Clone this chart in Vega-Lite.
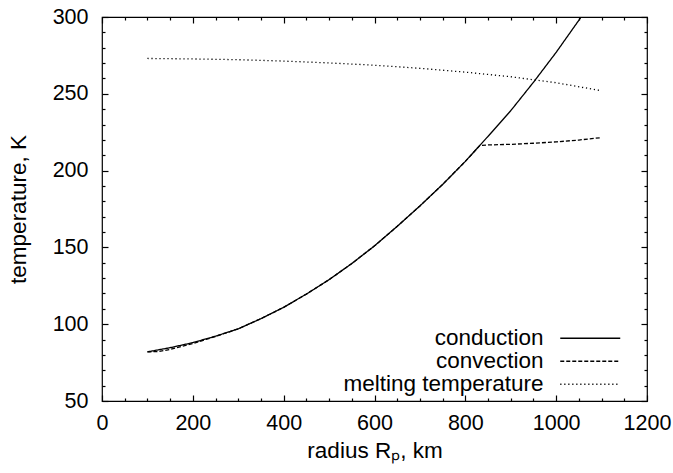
{
  "$schema": "https://vega.github.io/schema/vega-lite/v6.json",
  "width": 545,
  "height": 384,
  "autosize": {"type": "none"},
  "padding": {"left": 102, "top": 17, "right": 26, "bottom": 72},
  "background": "white",
  "config": {
    "view": {"stroke": "#000", "strokeWidth": 1.2},
    "font": "Liberation Sans",
    "axis": {"grid": false, "domain": false, "ticks": true, "tickColor": "#000", "tickOpacity": 1, "labelColor": "#000", "titleColor": "#000", "tickWidth": 1.2, "zindex": 1, "labelFlush": false}
  },
  "data": {
    "values": [
      {"r": 100, "T": 82, "s": "conduction"},
      {"r": 150, "T": 84.7, "s": "conduction"},
      {"r": 200, "T": 88, "s": "conduction"},
      {"r": 250, "T": 92.2, "s": "conduction"},
      {"r": 300, "T": 97, "s": "conduction"},
      {"r": 350, "T": 103.6, "s": "conduction"},
      {"r": 400, "T": 111, "s": "conduction"},
      {"r": 450, "T": 119.6, "s": "conduction"},
      {"r": 500, "T": 129, "s": "conduction"},
      {"r": 550, "T": 139.5, "s": "conduction"},
      {"r": 600, "T": 151, "s": "conduction"},
      {"r": 650, "T": 163.7, "s": "conduction"},
      {"r": 700, "T": 177, "s": "conduction"},
      {"r": 750, "T": 191, "s": "conduction"},
      {"r": 800, "T": 206, "s": "conduction"},
      {"r": 850, "T": 222.3, "s": "conduction"},
      {"r": 900, "T": 239, "s": "conduction"},
      {"r": 950, "T": 257.5, "s": "conduction"},
      {"r": 1000, "T": 277, "s": "conduction"},
      {"r": 1055, "T": 300, "s": "conduction"},
      {"r": 100, "T": 82, "s": "convection"},
      {"r": 125, "T": 82.2, "s": "convection"},
      {"r": 150, "T": 83.6, "s": "convection"},
      {"r": 200, "T": 87.4, "s": "convection"},
      {"r": 250, "T": 92, "s": "convection"},
      {"r": 300, "T": 97, "s": "convection"},
      {"r": 350, "T": 103.6, "s": "convection"},
      {"r": 400, "T": 111, "s": "convection"},
      {"r": 450, "T": 119.6, "s": "convection"},
      {"r": 500, "T": 129, "s": "convection"},
      {"r": 550, "T": 139.5, "s": "convection"},
      {"r": 600, "T": 151, "s": "convection"},
      {"r": 650, "T": 163.7, "s": "convection"},
      {"r": 700, "T": 177, "s": "convection"},
      {"r": 750, "T": 191, "s": "convection"},
      {"r": 800, "T": 206, "s": "convection"},
      {"r": 832, "T": 216.4, "s": "convection"},
      {"r": 850, "T": 216.7, "s": "convection"},
      {"r": 900, "T": 217.1, "s": "convection"},
      {"r": 950, "T": 217.8, "s": "convection"},
      {"r": 1000, "T": 218.7, "s": "convection"},
      {"r": 1050, "T": 219.9, "s": "convection"},
      {"r": 1100, "T": 221.5, "s": "convection"},
      {"r": 100, "T": 273, "s": "melting temperature"},
      {"r": 200, "T": 272.7, "s": "melting temperature"},
      {"r": 300, "T": 272.2, "s": "melting temperature"},
      {"r": 400, "T": 271.3, "s": "melting temperature"},
      {"r": 500, "T": 270.1, "s": "melting temperature"},
      {"r": 600, "T": 268.6, "s": "melting temperature"},
      {"r": 700, "T": 266.6, "s": "melting temperature"},
      {"r": 800, "T": 264.1, "s": "melting temperature"},
      {"r": 900, "T": 261.1, "s": "melting temperature"},
      {"r": 1000, "T": 257.2, "s": "melting temperature"},
      {"r": 1100, "T": 252, "s": "melting temperature"}
    ]
  },
  "layer": [
    {
      "mark": {"type": "line", "strokeWidth": 1.3, "clip": true},
      "encoding": {
        "x": {"field": "r", "type": "quantitative", "scale": {"domain": [0, 1200], "nice": false},
              "axis": {"orient": "bottom", "values": [0, 200, 400, 600, 800, 1000, 1200], "format": "d", "offset": -6, "tickSize": 6, "labelPadding": 11, "labelFontSize": 21.5, "labelFont": "Liberation Sans", "labelFlush": false, "title": "radius Rₚ, km", "titleFontSize": 22.5, "titleFont": "Liberation Sans", "titleFontWeight": "normal", "titlePadding": 6}},
        "y": {"field": "T", "type": "quantitative", "scale": {"domain": [50, 300], "nice": false, "zero": false},
              "axis": {"orient": "left", "values": [50, 100, 150, 200, 250, 300], "offset": -6, "tickSize": 6, "labelPadding": 14, "labelFontSize": 21.5, "labelFont": "Liberation Sans", "labelFlush": false, "title": "temperature, K", "titleFontSize": 22.5, "titleFont": "Liberation Sans", "titleFontWeight": "normal", "titlePadding": 22}},
        "color": {"field": "s", "type": "nominal", "scale": {"domain": ["conduction", "convection", "melting temperature"], "range": ["#000", "#000", "#000"]},
                  "legend": {"orient": "none", "legendX": 477, "legendY": 310, "padding": 0, "title": null, "symbolType": "M-3,0H3", "symbolSize": 400, "symbolStrokeWidth": 1.3, "labelFontSize": 22.5, "labelFont": "Liberation Sans", "labelColor": "#000", "labelLimit": 0, "labelAlign": "right", "labelOffset": -58, "rowPadding": 0}},
        "strokeDash": {"field": "s", "type": "nominal", "scale": {"domain": ["conduction", "convection", "melting temperature"], "range": [[1, 0], [4, 2], [1.2, 2.8]]},
                       "legend": {"orient": "none", "legendX": 477, "legendY": 310, "padding": 0, "title": null, "symbolType": "M-3,0H3", "symbolSize": 400, "symbolStrokeWidth": 1.3, "labelFontSize": 22.5, "labelFont": "Liberation Sans", "labelColor": "#000", "labelLimit": 0, "labelAlign": "right", "labelOffset": -58, "rowPadding": 0}}
      }
    },
    {
      "mark": {"type": "point", "opacity": 0},
      "encoding": {
        "x": {"field": "r", "type": "quantitative", "axis": {"orient": "bottom", "values": [50, 100, 150, 250, 300, 350, 450, 500, 550, 650, 700, 750, 850, 900, 950, 1050, 1100, 1150], "offset": -3, "tickSize": 3, "labels": false, "title": null}},
        "y": {"field": "T", "type": "quantitative", "axis": {"orient": "left", "values": [60, 70, 80, 90, 110, 120, 130, 140, 160, 170, 180, 190, 210, 220, 230, 240, 260, 270, 280, 290], "offset": -3, "tickSize": 3, "labels": false, "title": null}}
      }
    },
    {
      "mark": {"type": "point", "opacity": 0},
      "encoding": {
        "x": {"field": "r", "type": "quantitative", "axis": {"orient": "top", "values": [0, 200, 400, 600, 800, 1000, 1200], "offset": -6, "tickSize": 6, "labels": false, "title": null}},
        "y": {"field": "T", "type": "quantitative", "axis": {"orient": "right", "values": [50, 100, 150, 200, 250, 300], "offset": -6, "tickSize": 6, "labels": false, "title": null}}
      }
    },
    {
      "mark": {"type": "point", "opacity": 0},
      "encoding": {
        "x": {"field": "r", "type": "quantitative", "axis": {"orient": "top", "values": [50, 100, 150, 250, 300, 350, 450, 500, 550, 650, 700, 750, 850, 900, 950, 1050, 1100, 1150], "offset": -3, "tickSize": 3, "labels": false, "title": null}},
        "y": {"field": "T", "type": "quantitative", "axis": {"orient": "right", "values": [60, 70, 80, 90, 110, 120, 130, 140, 160, 170, 180, 190, 210, 220, 230, 240, 260, 270, 280, 290], "offset": -3, "tickSize": 3, "labels": false, "title": null}}
      }
    }
  ],
  "resolve": {"axis": {"x": "independent", "y": "independent"}}
}
